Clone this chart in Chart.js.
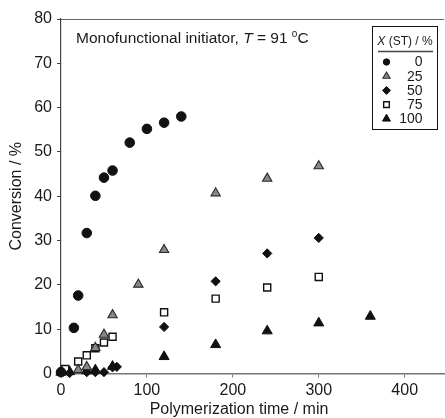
<!DOCTYPE html>
<html>
<head>
<meta charset="utf-8">
<script src="https://cdn.jsdelivr.net/npm/chart.js@4/dist/chart.umd.min.js"></script>
<style>
  html, body { margin: 0; padding: 0; background: #fff; overflow: hidden; width: 445px; height: 418px; }
  #c { display: block; }
</style>
</head>
<body>
<canvas id="c" width="451" height="418"></canvas>
<script>
// ---- data ----
const seriesLabels = ['0', '25', '50', '75', '100'];

const x0   = [0, 15, 20, 30, 40, 50, 60, 80, 100, 120, 140];
const y0   = [0.3, 10.3, 17.6, 31.7, 40.1, 44.2, 45.8, 52.1, 55.2, 56.6, 58.0];

const x25  = [0, 20, 30, 40, 50, 60, 90, 120, 180, 240, 300];
const y25  = [0.3, 0.8, 1.5, 5.8, 8.8, 13.2, 20.1, 27.9, 40.7, 44.0, 46.8];

const x50  = [0, 10, 30, 40, 50, 60, 65, 120, 180, 240, 300];
const y50  = [0.3, 0.1, 0.3, 0.3, 0.3, 1.4, 1.5, 10.5, 20.8, 27.1, 30.6];

const x75  = [5, 20, 30, 40, 50, 60, 120, 180, 240, 300];
const y75  = [1.0, 2.7, 4.1, 5.7, 7.0, 8.3, 13.8, 16.9, 19.4, 21.8];

const x100 = [0, 10, 30, 40, 60, 120, 180, 240, 300, 360];
const y100 = [0.3, 0.4, 0.6, 0.8, 1.6, 3.8, 6.5, 9.6, 11.4, 12.9];

const xTicks = [0, 100, 200, 300, 400];
const yTicks = [0, 10, 20, 30, 40, 50, 60, 70, 80];

const xTitle = 'Polymerization time / min';
const yTitle = 'Conversion / %';

// ---- helpers ----
const pts = (xs, ys) => xs.map((x, i) => ({ x: x, y: ys[i] }));
const FONT = '"Liberation Sans", Arial, Helvetica, sans-serif';

const styles = [
  { pointStyle: 'circle',   radius: 4.8, bg: '#111111', border: '#111111', bw: 1,   lr: 3.2 },
  { pointStyle: 'triangle', radius: 5.4, bg: '#888888', border: '#2a2a2a', bw: 1.1, lr: 4.2 },
  { pointStyle: 'rectRot',  radius: 4.6, bg: '#111111', border: '#111111', bw: 1,   lr: 4.0 },
  { pointStyle: 'rect',     radius: 5.0, bg: '#ffffff', border: '#111111', bw: 1.4, lr: 4.0 },
  { pointStyle: 'triangle', radius: 5.8, bg: '#111111', border: '#111111', bw: 1,   lr: 4.6 }
];
const allData = [pts(x0, y0), pts(x25, y25), pts(x50, y50), pts(x75, y75), pts(x100, y100)];

const datasets = allData.map((d, i) => ({
  label: seriesLabels[i],
  data: d,
  showLine: false,
  pointStyle: styles[i].pointStyle,
  pointRadius: styles[i].radius,
  pointHoverRadius: styles[i].radius,
  pointBackgroundColor: styles[i].bg,
  pointBorderColor: styles[i].border,
  pointBorderWidth: styles[i].bw,
  clip: false
}));

const decor = {
  id: 'decor',
  afterDraw(chart) {
    const ctx = chart.ctx;
    const a = chart.chartArea;
    ctx.save();

    // top frame line
    ctx.strokeStyle = '#666666';
    ctx.lineWidth = 1;
    ctx.beginPath();
    ctx.moveTo(a.left, Math.round(a.top) + 0.5);
    ctx.lineTo(a.right, Math.round(a.top) + 0.5);
    ctx.stroke();

    // annotation text
    ctx.fillStyle = '#1a1a1a';
    ctx.textBaseline = 'alphabetic';
    ctx.textAlign = 'left';
    let x = 76, by = 43;
    const normal = '15.5px ' + FONT, italic = 'italic 15.5px ' + FONT, small = '10px ' + FONT;
    const parts = [
      ['Monofunctional initiator, ', normal, 0],
      ['T', italic, 0],
      [' = 91 ', normal, 0],
      ['o', small, -6],
      ['C', normal, 0]
    ];
    parts.forEach(p => {
      ctx.font = p[1];
      ctx.fillText(p[0], x, by + p[2]);
      x += ctx.measureText(p[0]).width;
    });

    // x-axis title
    ctx.font = '16px ' + FONT;
    ctx.textAlign = 'center';
    ctx.textBaseline = 'middle';
    ctx.fillText(xTitle, 239, 410);

    // legend box
    const L = 372.5, T = 26.5, W = 65, H = 103;
    ctx.strokeStyle = '#111111';
    ctx.lineWidth = 1;
    ctx.strokeRect(L, T, W, H);

    // legend title: X (ST) / %
    const tFont = '12px ' + FONT, tItal = 'italic 12px ' + FONT;
    ctx.textAlign = 'left';
    ctx.textBaseline = 'middle';
    ctx.font = tItal; const wX = ctx.measureText('X').width;
    ctx.font = tFont; const rest = ' (ST) / %'; const wR = ctx.measureText(rest).width;
    let tx = 405 - (wX + wR) / 2;
    ctx.fillStyle = '#1a1a1a';
    ctx.font = tItal; ctx.fillText('X', tx, 42);
    ctx.font = tFont; ctx.fillText(rest, tx + wX, 42);

    // underline
    ctx.strokeStyle = '#444444';
    ctx.lineWidth = 1.3;
    ctx.beginPath();
    ctx.moveTo(378, 51.5);
    ctx.lineTo(433, 51.5);
    ctx.stroke();

    // legend items
    ctx.font = '14px ' + FONT;
    ctx.textAlign = 'right';
    ctx.textBaseline = 'middle';
    seriesLabels.forEach((lab, i) => {
      const yy = 62 + i * 14.2;
      const s = styles[i];
      ctx.fillStyle = s.bg;
      ctx.strokeStyle = s.border;
      ctx.lineWidth = s.bw;
      Chart.helpers.drawPoint(ctx, { pointStyle: s.pointStyle, radius: s.lr, rotation: 0, borderWidth: s.bw }, 386.5, yy);
      ctx.fillStyle = '#1a1a1a';
      ctx.fillText(lab, 422.5, yy + 0.5);
    });

    ctx.restore();
  }
};

new Chart(document.getElementById('c'), {
  type: 'scatter',
  data: { datasets: datasets },
  options: {
    responsive: false,
    animation: false,
    devicePixelRatio: 1,
    layout: { padding: { top: 19, right: 0, left: 0, bottom: 0 } },
    plugins: { legend: { display: false }, tooltip: { enabled: false } },
    scales: {
      x: {
        type: 'linear',
        min: 0,
        max: 446,
        afterBuildTicks: s => { s.ticks = xTicks.map(v => ({ value: v })); },
        afterFit: s => { s.height = 44.5; s.paddingRight = 0; s.paddingLeft = 0; },
        grid: { display: true, drawOnChartArea: false, drawTicks: true, tickLength: 4, color: '#777777' },
        border: { display: true, color: '#777777', width: 1.5 },
        ticks: { color: '#1a1a1a', font: { family: FONT, size: 16 }, padding: 3, maxRotation: 0 },
        title: { display: false }
      },
      y: {
        type: 'linear',
        min: 0,
        max: 80,
        afterBuildTicks: s => { s.ticks = yTicks.map(v => ({ value: v })); },
        afterFit: s => { s.width = 61; s.paddingTop = 0; s.paddingBottom = 0; },
        grid: { display: true, drawOnChartArea: false, drawTicks: true, tickLength: 4, color: '#444444' },
        border: { display: true, color: '#444444', width: 1.2 },
        ticks: { color: '#1a1a1a', font: { family: FONT, size: 16 }, padding: 5 },
        title: { display: true, text: yTitle, color: '#1a1a1a', font: { family: FONT, size: 16 }, padding: { top: 7, bottom: 0 } }
      }
    }
  },
  plugins: [decor]
});
</script>
</body>
</html>
